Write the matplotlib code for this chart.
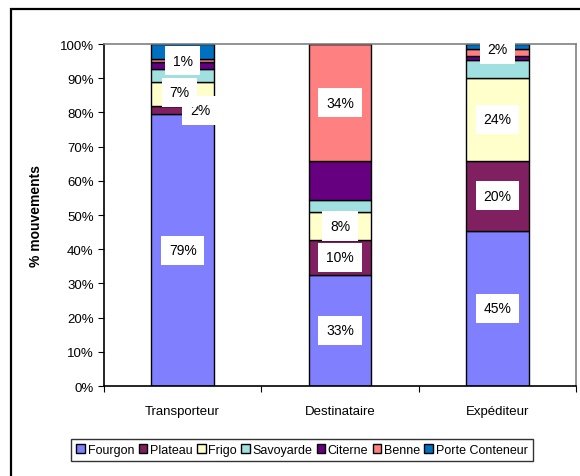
import matplotlib
matplotlib.use('Agg')
import matplotlib.pyplot as plt
from matplotlib.patches import Rectangle
import numpy as np

plt.rcParams['font.family'] = ['Liberation Sans', 'DejaVu Sans']

# Data (percent of movements)
categories = ['Transporteur', 'Destinataire', 'Expéditeur']
series_names = ['Fourgon', 'Plateau', 'Frigo', 'Savoyarde', 'Citerne', 'Benne', 'Porte Conteneur']
fourgon = [79.4, 32.6, 45.4]
plateau = [2.5, 10.0, 20.4]
frigo = [7.0, 8.3, 24.4]
savoyarde = [3.8, 3.6, 5.0]
citerne = [1.9, 11.2, 1.4]
benne = [1.0, 34.3, 2.0]
porte_conteneur = [4.4, 0.0, 1.4]
yticks = list(range(0, 101, 10))

values = [fourgon, plateau, frigo, savoyarde, citerne, benne, porte_conteneur]
colors = ['#8080FF', '#802060', '#FFFFCC', '#A0E0E0', '#660080', '#FF8080', '#0070C0']
labelled = ['Fourgon', 'Plateau', 'Frigo', 'Benne']
# small manual nudges for crowded labels (category index, series) -> (dx, dy)
nudges = {(0, 'Plateau'): (0.11, 0.0), (0, 'Frigo'): (-0.02, 0.5), (2, 'Benne'): (0.0, 0.8)}

fig = plt.figure(figsize=(5.8, 4.77), dpi=100)
ax = fig.add_axes([104 / 580, 1 - 387 / 477, 472 / 580, 342 / 477])

x = np.arange(len(categories))
bottom = np.zeros(len(categories))
for name, vals, col in zip(series_names, values, colors):
    vals = np.array(vals)
    ax.bar(x, vals, bottom=bottom, width=0.4, color=col, edgecolor='black',
           linewidth=1, label=name, zorder=2)
    if name in labelled:
        for i, v in enumerate(vals):
            if v <= 0:
                continue
            dx, dy = nudges.get((i, name), (0, 0))
            ax.text(x[i] + dx, bottom[i] + v / 2 + dy, f'{round(v):d}%',
                    ha='center', va='center', fontsize=10, zorder=4,
                    bbox=dict(boxstyle='square,pad=0.55', fc='white', ec='none'))
    bottom += vals

ax.set_xlim(-0.5, 2.5)
ax.set_ylim(0, 100)
ax.set_yticks(yticks)
ax.set_yticklabels([f'{t}%' for t in yticks], fontsize=9.5)
ax.set_xticks([-0.5, 0.5, 1.5, 2.5])
ax.set_xticklabels([])
ax.set_xticks(x, minor=True)
ax.set_xticklabels(categories, minor=True, fontsize=9.5)
ax.tick_params(axis='x', which='minor', length=0, pad=14)
ax.tick_params(axis='x', which='major', direction='out', length=4, color='black')
ax.tick_params(axis='y', direction='out', length=4, color='black')

ax.spines['left'].set_color('black')
ax.spines['bottom'].set_color('black')
ax.spines['top'].set_color('#808080')
ax.spines['right'].set_color('#808080')
for s in ax.spines.values():
    s.set_linewidth(1.2)

ax.set_ylabel('% mouvements', fontsize=10, fontweight='bold', labelpad=12)

leg = fig.legend(loc='center', bbox_to_anchor=(302 / 580, 1 - 451 / 477), ncol=7,
                 fontsize=9, frameon=True, fancybox=False, edgecolor='black',
                 handlelength=0.7, handleheight=0.7, handletextpad=0.2,
                 columnspacing=0.35, borderpad=0.4, borderaxespad=0)
leg.get_frame().set_linewidth(1)

# outer chart frame (runs off the right and bottom edges)
fig.patches.append(Rectangle((11 / 580, -0.2), 1.2, 1.2 - 10 / 477,
                             transform=fig.transFigure, fill=False,
                             edgecolor='black', linewidth=1.6))

fig.savefig('out.png', dpi=100)
